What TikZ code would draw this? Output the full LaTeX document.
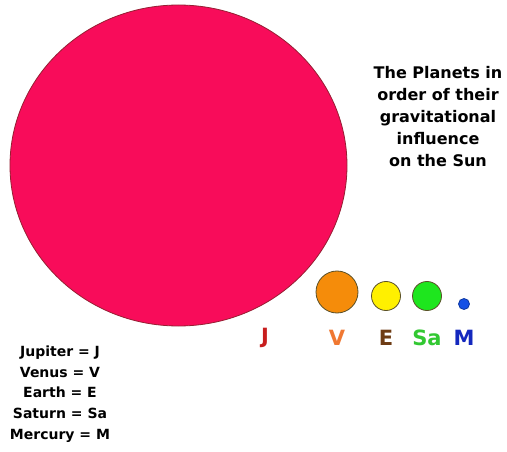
\documentclass[tikz,border=0pt]{standalone}
\usepackage{fontspec}
\usetikzlibrary{shapes.geometric}
\setmainfont{DejaVu Sans}
\definecolor{sunfill}{RGB}{248,12,90}
\definecolor{sunline}{RGB}{150,30,50}
\definecolor{jcol}{RGB}{200,30,30}
\definecolor{vcol}{RGB}{245,140,10}
\definecolor{vtxt}{RGB}{240,120,50}
\definecolor{ecol}{RGB}{255,240,0}
\definecolor{etxt}{RGB}{110,60,20}
\definecolor{scol}{RGB}{30,230,30}
\definecolor{stxt}{RGB}{50,200,50}
\definecolor{mcol}{RGB}{20,80,230}
\definecolor{mtxt}{RGB}{20,40,190}
\definecolor{pline}{RGB}{90,80,40}
\tikzset{
  planet/.style={circle,draw=pline,line width=0.8pt,inner sep=0pt},
  lbl/.style={font=\fontsize{21}{21}\selectfont\bfseries,anchor=center,inner sep=0pt},
  title/.style={font=\fontsize{16}{22}\selectfont\bfseries,align=center},
  legend/.style={font=\fontsize{14}{20.8}\selectfont\bfseries,align=center}
}
\begin{document}
\begin{tikzpicture}[x=1pt,y=-1pt]
\useasboundingbox (0,0) rectangle (507,452);
\fill[white] (0,0) rectangle (507,452);
\node[ellipse,fill=sunfill,draw=sunline,line width=0.8pt,inner sep=0pt,minimum width=337pt,minimum height=321pt] (sun) at (178.5,165.5) {};
\node[planet,fill=vcol,minimum size=42pt] (venus) at (337,292) {};
\node[planet,fill=ecol,minimum size=29pt] (earth) at (386,296) {};
\node[planet,fill=scol,minimum size=29pt] (saturn) at (427,296) {};
\node[planet,fill=mcol,draw=mcol!70!black,minimum size=11pt] (mercury) at (464,304) {};
\node[lbl,text=jcol] (lj) at (265,338) {J};
\node[lbl,text=vtxt] (lv) at (337,338) {V};
\node[lbl,text=etxt] (le) at (386,338) {E};
\node[lbl,text=stxt] (ls) at (427,338) {Sa};
\node[lbl,text=mtxt] (lm) at (464,338) {M};
\node[title] (t) at (438,117) {The Planets in\\order of their\\gravitational\\influence\\on the Sun};
\node[legend] (leg) at (60,394) {Jupiter = J\\Venus = V\\Earth = E\\Saturn = Sa\\Mercury = M};
\end{tikzpicture}
\end{document}
